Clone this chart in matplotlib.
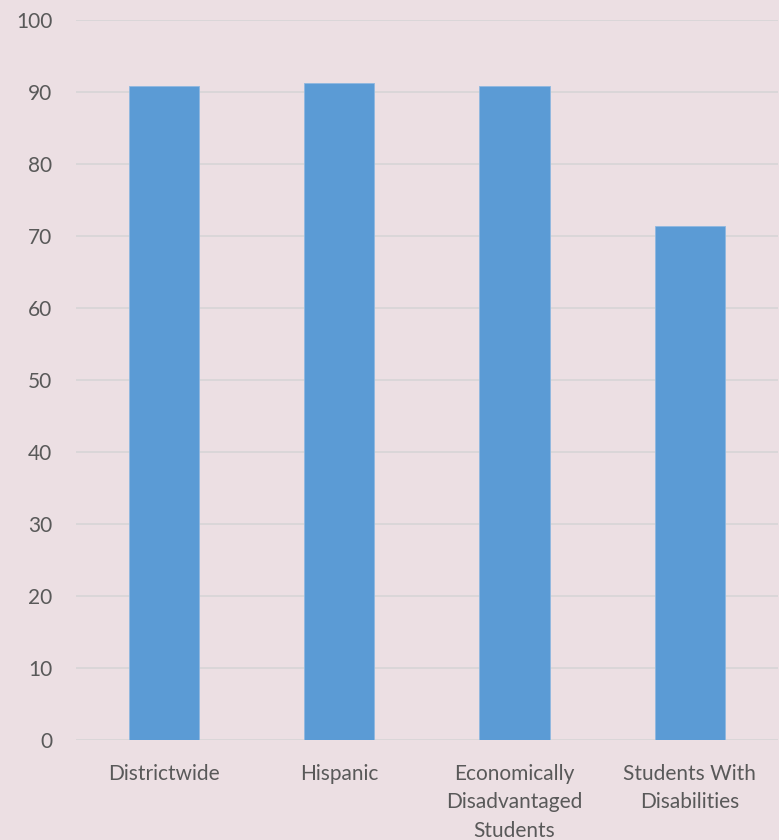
import matplotlib.pyplot as plt
import numpy as np

categories = ["Districtwide", "Hispanic", "Economically\nDisadvantaged\nStudents",
              "Students With\nDisabilities"]
values = [90.9, 91.3, 90.9, 71.4]
yticks = [0, 10, 20, 30, 40, 50, 60, 70, 80, 90, 100]


def main():
    plt.rcParams['font.family'] = ['Lato', 'DejaVu Sans']
    bg = '#ecdfe3'
    fig = plt.figure(figsize=(7.79, 8.4), dpi=100, facecolor=bg)
    ax = fig.add_axes([76 / 779, 100 / 840, 701.5 / 779, 720 / 840])
    ax.set_facecolor(bg)

    x = np.arange(len(categories))
    ax.bar(x, values, width=0.4, color='#5b9bd5', edgecolor='#8fb8e0',
           linewidth=0.6, zorder=3)

    ax.set_xlim(-0.5, len(categories) - 0.5)
    ax.set_ylim(0, 100)
    ax.set_yticks(yticks)
    ax.set_xticks(x)
    ax.set_xticklabels(categories, linespacing=1.55)
    ax.grid(axis='y', color='#dad6d8', linewidth=1.4, zorder=0)

    for s in ax.spines.values():
        s.set_visible(False)
    ax.tick_params(axis='both', length=0, labelsize=15, colors='#595959')
    ax.tick_params(axis='y', pad=17)
    ax.tick_params(axis='x', pad=17)

    fig.savefig('out.png', dpi=100, facecolor=bg)


if __name__ == '__main__':
    main()
